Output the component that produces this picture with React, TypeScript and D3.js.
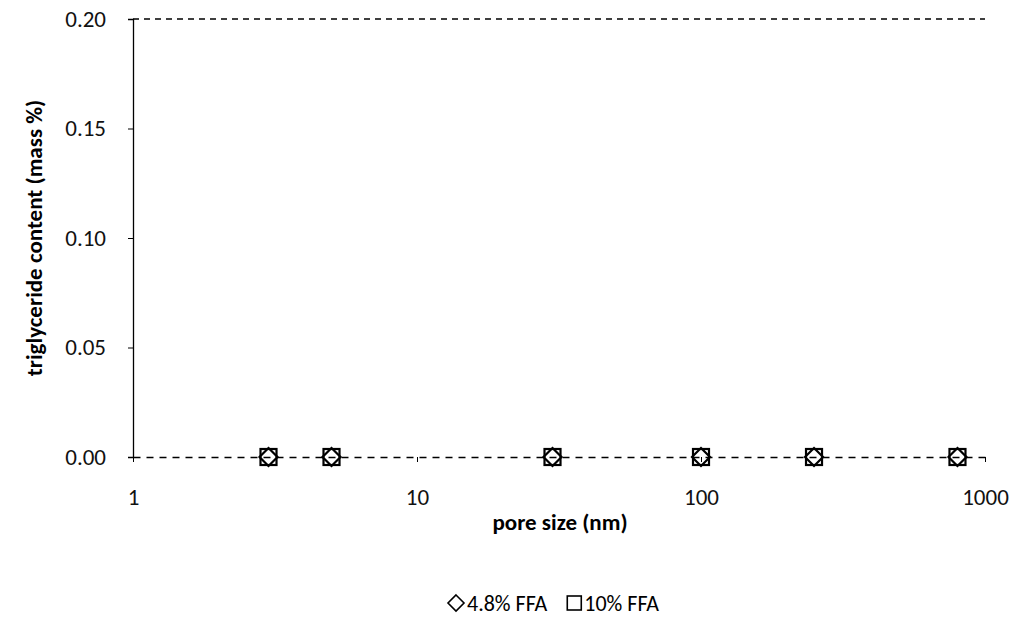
import React, { useEffect, useRef } from "react";
import * as d3 from "d3";

// pore size (nm) vs triglyceride content (mass %)
const poreSizes = [3, 5, 30, 100, 250, 800];
const ffa48 = [0, 0, 0, 0, 0, 0];
const ffa10 = [0, 0, 0, 0, 0, 0];
const yTicks = [0, 0.05, 0.1, 0.15, 0.2];
const xTicks = [1, 10, 100, 1000];

const FONT = "Carlito, 'Open Sans', 'Liberation Sans', sans-serif";

const App = () => {
  const ref = useRef<SVGSVGElement>(null);

  useEffect(() => {
    const width = 1019, height = 640;
    const svg = d3.select(ref.current).attr("width", width).attr("height", height);
    svg.selectAll("*").remove();

    const x = d3.scaleLog().domain([1, 1000]).range([133, 985]);
    const y = d3.scaleLinear().domain([0, 0.2]).range([457, 19]);

    // dashed line at top
    svg.append("line")
      .attr("x1", x(1)).attr("x2", x(1000))
      .attr("y1", y(0.2)).attr("y2", y(0.2))
      .attr("stroke", "#000").attr("stroke-width", 1.5)
      .attr("stroke-dasharray", "6,5");

    // y axis
    const yAxis = svg.append("g")
      .attr("transform", `translate(${x(1)},0)`)
      .call(d3.axisLeft(y).tickValues(yTicks).tickFormat(d3.format(".2f")).tickSize(5).tickPadding(22));
    yAxis.select(".domain").attr("stroke-width", 1.3);
    yAxis.selectAll("text").attr("font-family", FONT).attr("font-size", 23).attr("fill", "#111");

    // x axis at y=0, dashed
    const xAxis = svg.append("g")
      .attr("transform", `translate(0,${y(0)})`)
      .call(d3.axisBottom(x).tickValues(xTicks).tickFormat(d3.format("d")).tickSize(5).tickSizeOuter(0).tickPadding(27));
    xAxis.select(".domain").attr("stroke-dasharray", "7,6").attr("stroke-width", 1.3);
    xAxis.selectAll("text").attr("font-family", FONT).attr("font-size", 23).attr("fill", "#111");

    const pts = svg.append("g");
    // 10% FFA squares
    pts.selectAll("rect")
      .data(poreSizes.map((p, i) => ({ p, v: ffa10[i] })))
      .enter().append("rect")
      .attr("x", d => x(d.p) - 8).attr("y", d => y(d.v) - 8)
      .attr("width", 16).attr("height", 16)
      .attr("fill", "none").attr("stroke", "#000").attr("stroke-width", 2.2);
    // 4.8% FFA diamonds
    pts.selectAll("path")
      .data(poreSizes.map((p, i) => ({ p, v: ffa48[i] })))
      .enter().append("path")
      .attr("d", d => {
        const cx = x(d.p), cy = y(d.v), r = 9;
        return `M${cx},${cy - r}L${cx + r},${cy}L${cx},${cy + r}L${cx - r},${cy}Z`;
      })
      .attr("fill", "none").attr("stroke", "#000").attr("stroke-width", 2.2);

    // axis titles
    svg.append("text")
      .attr("x", 560).attr("y", 530).attr("text-anchor", "middle")
      .attr("font-family", FONT).attr("font-size", 23).attr("font-weight", "bold")
      .text("pore size (nm)");
    svg.append("text")
      .attr("transform", `translate(42,238) rotate(-90)`).attr("text-anchor", "middle")
      .attr("font-family", FONT).attr("font-size", 23).attr("font-weight", "bold")
      .text("triglyceride content (mass %)");

    // legend
    const lg = svg.append("g");
    const fs = 22, ms = 14;
    let cx = 0;
    lg.append("path")
      .attr("d", `M${ms / 2},${-ms / 2 - 1}L${ms + 1},0L${ms / 2},${ms / 2 + 1}L-1,0Z`)
      .attr("fill", "none").attr("stroke", "#000").attr("stroke-width", 1.6);
    cx += ms + 4;
    const t1 = lg.append("text").attr("x", cx).attr("y", 0).attr("dy", "0.35em")
      .attr("font-family", FONT).attr("font-size", fs).text("4.8% FFA");
    cx += (t1.node() as SVGTextElement).getComputedTextLength() + 20;
    lg.append("rect").attr("x", cx).attr("y", -ms / 2).attr("width", ms).attr("height", ms)
      .attr("fill", "none").attr("stroke", "#000").attr("stroke-width", 1.6);
    cx += ms + 3;
    const t2 = lg.append("text").attr("x", cx).attr("y", 0).attr("dy", "0.35em")
      .attr("font-family", FONT).attr("font-size", fs).text("10% FFA");
    cx += (t2.node() as SVGTextElement).getComputedTextLength();
    lg.attr("transform", `translate(${554 - cx / 2},603)`);
  }, []);

  return <svg ref={ref} style={{ display: "block", margin: "-8px" }}></svg>;
};

export default App;
